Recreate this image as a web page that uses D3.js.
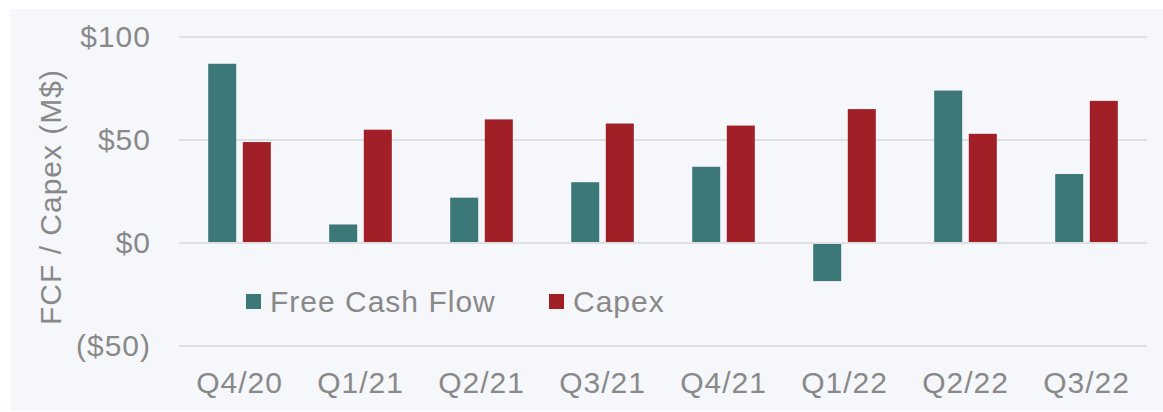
<!DOCTYPE html>
<html>
<head>
<meta charset="utf-8">
<script src="https://cdn.jsdelivr.net/npm/d3@7"></script>
<style>
  body { margin: 0; background: #fff; }
  text { font-family: "Liberation Sans", Arial, sans-serif; fill: #898989; letter-spacing: 1px; }
</style>
</head>
<body>
<script>
// chart data
var quarters = ["Q4/20", "Q1/21", "Q2/21", "Q3/21", "Q4/21", "Q1/22", "Q2/22", "Q3/22"];
var fcf = [87, 9, 22, 29.5, 37, -18.5, 74, 33.5];
var capex = [49, 55, 60, 58, 57, 65, 53, 69];
var yTicks = [-50, 0, 50, 100];
var seriesNames = ["Free Cash Flow", "Capex"];
var seriesColors = ["#3b7877", "#a11f27"];

var W = 1163, H = 412;

var svg = d3.select("body").append("svg")
  .attr("width", W)
  .attr("height", H);

// panel background
svg.append("rect")
  .attr("x", 10).attr("y", 9)
  .attr("width", W - 10).attr("height", H - 10)
  .attr("fill", "#f5f7fb");

var x = d3.scaleBand().domain(quarters).range([179, 1147]);
var y = d3.scaleLinear().domain([-50, 100]).range([346, 37]);

// gridlines
svg.append("g").selectAll("line")
  .data(yTicks)
  .enter().append("line")
    .attr("x1", 179).attr("x2", 1147)
    .attr("y1", function(d) { return y(d); })
    .attr("y2", function(d) { return y(d); })
    .attr("stroke", "#dfe0e4")
    .attr("stroke-width", 2);

// y tick labels
svg.append("g").selectAll("text")
  .data(yTicks)
  .enter().append("text")
    .attr("x", 151)
    .attr("y", function(d) { return y(d) + 10; })
    .attr("text-anchor", "end")
    .attr("font-size", 30)
    .text(function(d) { return d < 0 ? "($" + (-d) + ")" : "$" + d; });

// x labels
svg.append("g").selectAll("text")
  .data(quarters)
  .enter().append("text")
    .attr("x", function(d) { return x(d) + x.bandwidth() / 2; })
    .attr("y", 393)
    .attr("text-anchor", "middle")
    .attr("font-size", 30)
    .text(function(d) { return d; });

// y axis title
svg.append("text")
  .attr("transform", "translate(61,197) rotate(-90)")
  .attr("text-anchor", "middle")
  .attr("font-size", 30)
  .text("FCF / Capex (M$)");

var barW = 28, gap = 3.3;

function drawBars(vals, color, offset) {
  svg.append("g").selectAll("rect")
    .data(vals)
    .enter().append("rect")
      .attr("x", function(d, i) { return x(quarters[i]) + x.bandwidth() / 2 + offset; })
      .attr("y", function(d) { return d >= 0 ? y(d) : y(0) + 1; })
      .attr("width", barW)
      .attr("height", function(d) { return d >= 0 ? y(0) - 1 - y(d) : y(d) - y(0) - 1; })
      .attr("fill", color);
}

drawBars(fcf, seriesColors[0], -gap - barW);
drawBars(capex, seriesColors[1], gap);

// legend
var legendX = [246, 549];
var legend = svg.append("g").selectAll("g")
  .data(seriesNames)
  .enter().append("g")
    .attr("transform", function(d, i) { return "translate(" + legendX[i] + ",294)"; });

legend.append("rect")
  .attr("width", 15).attr("height", 15)
  .attr("fill", function(d, i) { return seriesColors[i]; });

legend.append("text")
  .attr("x", 24)
  .attr("y", 18)
  .attr("font-size", 30)
  .text(function(d) { return d; });
</script>
</body>
</html>
